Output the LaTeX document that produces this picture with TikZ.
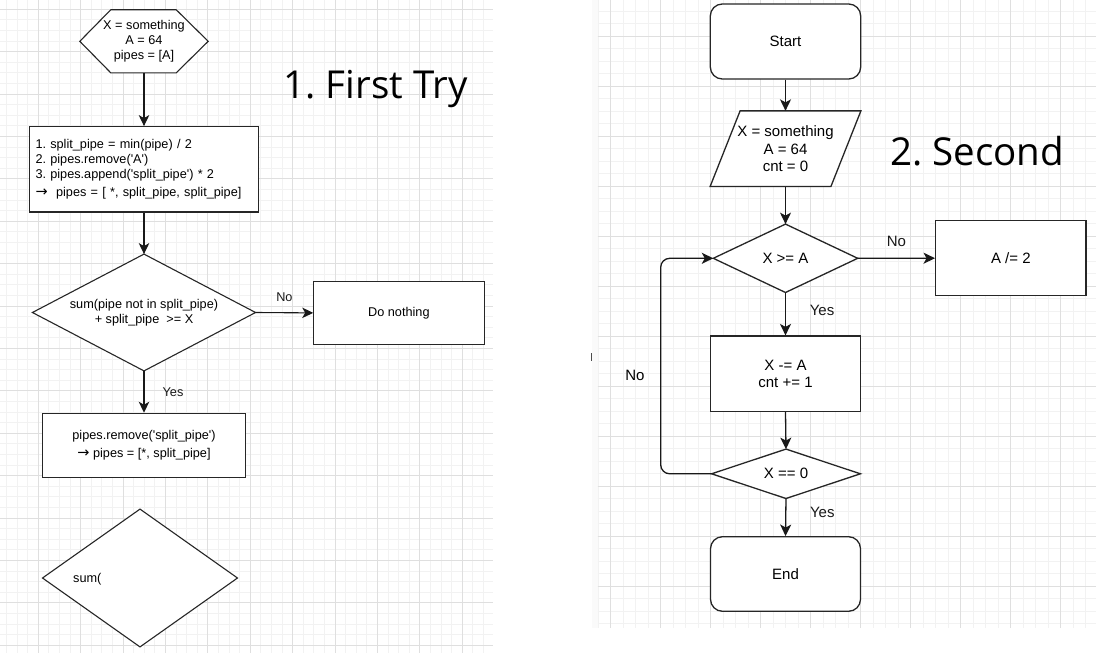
\documentclass[tikz,border=0pt]{standalone}
\usepackage{fontspec}
\setmainfont{Liberation Sans}
\newfontfamily\titlefont{Open Sans}
\newfontfamily\arrowfont{DejaVu Sans}
\usetikzlibrary{arrows.meta,calc}
\newcommand\sq{\textquotesingle}
\newcommand\rarr{{\arrowfont\fontsize{14.5}{15}\selectfont →}}
\begin{document}
\frenchspacing
\begin{tikzpicture}[x=1pt,y=-1pt,
  minorgrid/.style={gray!10, line width=0.9pt},
  majorgrid/.style={gray!25, line width=0.9pt},
  lfont/.style={font=\fontsize{12.7}{15.2}\selectfont},
  rfont/.style={font=\fontsize{15}{17.5}\selectfont},
  lline/.style={draw=black!85, line width=1.1pt},
  rline/.style={draw=black!85, line width=1.3pt},
  lbox/.style={lline, rectangle, inner sep=0pt, lfont, align=center, fill=white},
  rbox/.style={rline, rectangle, inner sep=0pt, rfont, align=center, fill=white},
  ghost/.style={rectangle, inner sep=0pt, align=center},
  ledge/.style={black!90, line width=1.1pt, -{Stealth[length=11pt,width=10.5pt,inset=3pt]}},
  redge/.style={black!90, line width=1.3pt, -{Stealth[length=11.5pt,width=11pt,inset=3pt]}},
  llbl/.style={lfont, inner sep=0pt},
  rlbl/.style={rfont, inner sep=0pt},
  titlestyle/.style={anchor=base west, inner sep=0pt, font=\titlefont\fontsize{38.5}{46}\selectfont}
]
\useasboundingbox (0,0) rectangle (1096,653);
\fill[white] (0,0) rectangle (1096,653);

% ---------- left canvas grid ----------
\begin{scope}
  \clip (0,0) rectangle (493,653);
  \foreach \i in {-4,...,43} {
    \pgfmathsetmacro\xx{38.3+10.6*\i}
    \draw[minorgrid] (\xx,0) -- (\xx,653);
  }
  \foreach \j in {-1,...,61} {
    \pgfmathsetmacro\yy{9.3+10.6*\j}
    \draw[minorgrid] (0,\yy) -- (493,\yy);
  }
  \foreach \i in {0,...,10} {
    \pgfmathsetmacro\xx{38.3+42.4*\i}
    \draw[majorgrid] (\xx,0) -- (\xx,653);
  }
  \foreach \j in {0,...,15} {
    \pgfmathsetmacro\yy{9.3+42.4*\j}
    \draw[majorgrid] (0,\yy) -- (493,\yy);
  }
\end{scope}

% ---------- right canvas grid ----------
\fill[gray!4] (591.5,0) rectangle (597.5,628);
\begin{scope}
  \clip (597.5,0) rectangle (1096,628);
  \fill[white] (597.5,0) rectangle (1096,628);
  \foreach \i in {-1,...,39} {
    \pgfmathsetmacro\xx{610.7+12.5*\i}
    \draw[minorgrid] (\xx,0) -- (\xx,628);
  }
  \foreach \j in {-3,...,47} {
    \pgfmathsetmacro\yy{36+12.5*\j}
    \draw[minorgrid] (597.5,\yy) -- (1096,\yy);
  }
  \foreach \i in {0,...,9} {
    \pgfmathsetmacro\xx{610.7+50*\i}
    \draw[majorgrid] (\xx,0) -- (\xx,628);
  }
  \foreach \j in {0,...,11} {
    \pgfmathsetmacro\yy{36+50*\j}
    \draw[majorgrid] (597.5,\yy) -- (1096,\yy);
  }
\end{scope}
\draw[black!70, line width=0.8pt] (591.5,353) -- (591.5,361);

% ---------- left flowchart ----------
\node[ghost, minimum width=128pt, minimum height=62.7pt] (hex) at (144,41.3) {};
\filldraw[lline, fill=white] (hex.west) -- ([xshift=31pt]hex.north west) -- ([xshift=-32pt]hex.north east)
  -- (hex.east) -- ([xshift=-32pt]hex.south east) -- ([xshift=31pt]hex.south west) -- cycle;
\node[ghost, lfont] (hextext) at (hex.center) {X = something\\A = 64\\pipes = [A]};

\node[lbox, minimum width=229.4pt, minimum height=85.3pt, text width=217pt, align=left, inner xsep=6pt] (split) at (144,169.3)
  {1. split\_pipe = min(pipe) / 2\\2. pipes.remove(\sq A\sq)\\3. pipes.append(\sq split\_pipe\sq) * 2\\[3pt]\rarr\ \ pipes = [ *, split\_pipe, split\_pipe]};

\node[ghost, minimum width=222.7pt, minimum height=116.4pt] (cond) at (144,312.5) {};
\filldraw[lline, fill=white] (cond.north) -- (cond.east) -- (cond.south) -- (cond.west) -- cycle;
\node[ghost, lfont] (condtext) at (cond.center) {sum(pipe not in split\_pipe)\\+ split\_pipe\ \ >= X};

\node[lbox, minimum width=170.3pt, minimum height=63.7pt] (nothing) at (398.9,312.9) {Do nothing};

\node[lbox, minimum width=202.6pt, minimum height=64.4pt] (remove) at (144,445.5)
  {pipes.remove(\sq split\_pipe\sq)\\[3pt]\rarr\ pipes = [*, split\_pipe]};

\node[ghost, minimum width=194.6pt, minimum height=137.4pt] (sumdiam) at (140,578) {};
\filldraw[lline, fill=white] (sumdiam.north) -- (sumdiam.east) -- (sumdiam.south) -- (sumdiam.west) -- cycle;
\node[llbl, anchor=west] (sumtext) at (73,579) {sum(};

\draw[ledge] (hex.south) -- (split.north);
\draw[ledge] (split.south) -- (cond.north);
\draw[ledge] (cond.east) -- (nothing.west) node[llbl, midway, yshift=16pt] (no1) {No};
\draw[ledge] (cond.south) -- (remove.north) node[llbl, midway, xshift=29pt] (yes1) {Yes};

\node[titlestyle] (title1) at (283.3,98.3) {1. First Try};

% ---------- right flowchart ----------
\node[rbox, rounded corners=12pt, minimum width=150.4pt, minimum height=75pt] (start) at (785.5,41.5) {Start};

\node[ghost, minimum width=150.4pt, minimum height=75.3pt] (input) at (785.5,148.7) {};
\filldraw[rline, fill=white] ([xshift=30pt]input.north west) -- (input.north east)
  -- ([xshift=-30pt]input.south east) -- (input.south west) -- cycle;
\node[ghost, rfont] (inputtext) at (input.center) {X = something\\A = 64\\cnt = 0};

\node[ghost, minimum width=144pt, minimum height=68pt] (xa) at (785.5,258.3) {};
\filldraw[rline, fill=white] (xa.north) -- (xa.east) -- (xa.south) -- (xa.west) -- cycle;
\node[ghost, rfont] (xatext) at (xa.center) {X >= A};

\node[rbox, minimum width=150.3pt, minimum height=75pt] (half) at (1010.85,258.2) {A /= 2};
\node[rbox, minimum width=150.4pt, minimum height=75.3pt] (sub) at (785.5,373.7) {X -= A\\cnt += 1};

\node[ghost, minimum width=148.4pt, minimum height=49pt] (zero) at (786,473.8) {};
\filldraw[rline, fill=white] (zero.north) -- (zero.east) -- (zero.south) -- (zero.west) -- cycle;
\node[ghost, rfont] (zerotext) at (zero.center) {X == 0};

\node[rbox, rounded corners=12pt, minimum width=150pt, minimum height=74.6pt] (end) at (785.5,574) {End};

\coordinate (loopx) at (660.7,473.8);

\draw[redge] (start.south) -- (input.north);
\draw[redge] (input.south) -- (xa.north);
\draw[redge] (xa.east) -- (half.west) node[rlbl, midway, yshift=16.5pt] (no2) {No};
\draw[redge] (xa.south) -- (sub.north) node[rlbl, midway, xshift=36.5pt, yshift=4pt] (yes2) {Yes};
\draw[redge] (sub.south) -- (zero.north);
\draw[redge, rounded corners=9pt] (zero.west) -- (loopx) |- (xa.west);
\node[rlbl] (no3) at (635,375) {No};
\draw[redge] (zero.south) -- (end.north) node[rlbl, midway, xshift=36.5pt, yshift=5pt] (yes3) {Yes};

\node[titlestyle] (title2) at (890,165) {2. Second};
\end{tikzpicture}
\end{document}
